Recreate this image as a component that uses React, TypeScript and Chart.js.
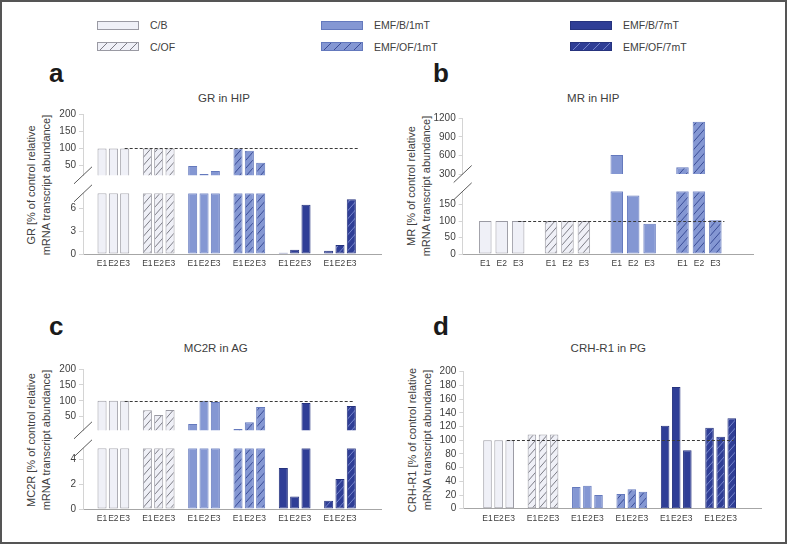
import React, { useEffect, useRef } from 'react';
import { Chart, registerables } from 'chart.js';

Chart.register(...registerables);

const FONT = "'Liberation Sans', Arial, Helvetica, sans-serif";
const TEXT = '#404040';

const REPLICATES = ['E1', 'E2', 'E3'];
const CONDITIONS = ['C/B', 'C/OF', 'EMF/B/1mT', 'EMF/OF/1mT', 'EMF/B/7mT', 'EMF/OF/7mT'];

// a: GR in HIP
const GR_CB = [100, 100, 100];
const GR_COF = [100, 100, 100];
const GR_B1 = [49, 26, 34.5];
const GR_OF1 = [100, 93, 58.5];
const GR_B7 = [0.15, 0.57, 6.5];
const GR_OF7 = [0.43, 1.2, 7.2];
const GR_UPPER_TICKS = [50, 100, 150, 200];
const GR_LOWER_TICKS = [0, 3, 6];

// b: MR in HIP
const MR_CB = [100, 100, 100];
const MR_COF = [100, 100, 100];
const MR_B1 = [607, 177, 92];
const MR_OF1 = [410, 1145, 102];
const MR_UPPER_TICKS = [300, 600, 900, 1200];
const MR_LOWER_TICKS = [0, 50, 100, 150];

// c: MC2R in AG
const MC2R_CB = [100, 100, 100];
const MC2R_COF = [70, 55, 71];
const MC2R_B1 = [27, 100, 96];
const MC2R_OF1 = [11, 32, 80];
const MC2R_B7 = [3.3, 1.0, 93];
const MC2R_OF7 = [0.67, 2.43, 83.5];
const MC2R_UPPER_TICKS = [50, 100, 150, 200];
const MC2R_LOWER_TICKS = [0, 2, 4];

// d: CRH-R1 in PG
const CRH_CB = [100, 100, 100];
const CRH_COF = [108.5, 108.5, 108.5];
const CRH_B1 = [31.7, 33.6, 20];
const CRH_OF1 = [21.5, 28.3, 24.8];
const CRH_B7 = [121, 177.7, 85.2];
const CRH_OF7 = [118.3, 105.1, 132];
const CRH_TICKS = [0, 20, 40, 60, 80, 100, 120, 140, 160, 180, 200];

const CONTROL_LEVEL = 100;

// styles
const FILL = ['#eff0f7', '#eff0f7', '#8497d3', '#8497d3', '#2f3e96', '#2f3e96'];
const EDGE = ['#9a9aa3', '#9a9aa3', '#6479bd', '#6479bd', '#26337e', '#26337e'];
const HATCH: (string | null)[] = [null, '#7c7c85', null, '#3a4c96', null, '#7686cc'];

type Seg = {
  key: string;
  area: [number, number, number, number];
  groups: number[][];
  min: number;
  max: number;
  ticks: number[];
  part: 'upper' | 'lower' | 'full';
  pad: [number, number];
  barPct: number;
  ref?: [number, number];
};

const GR_GROUPS = [GR_CB, GR_COF, GR_B1, GR_OF1, GR_B7, GR_OF7];
const MR_GROUPS = [MR_CB, MR_COF, MR_B1, MR_OF1];
const MC2R_GROUPS = [MC2R_CB, MC2R_COF, MC2R_B1, MC2R_OF1, MC2R_B7, MC2R_OF7];
const CRH_GROUPS = [CRH_CB, CRH_COF, CRH_B1, CRH_OF1, CRH_B7, CRH_OF7];

const SEGMENTS: Seg[] = [
  { key: 'a-up', area: [83, 114, 381.7, 175.3], groups: GR_GROUPS, min: 22, max: 200, ticks: GR_UPPER_TICKS, part: 'upper', pad: [1.68, 2.68], barPct: 0.8, ref: [2, 22.6] },
  { key: 'a-lo', area: [83, 193.3, 381.7, 254], groups: GR_GROUPS, min: 0, max: 8, ticks: GR_LOWER_TICKS, part: 'lower', pad: [1.68, 2.68], barPct: 0.8 },
  { key: 'b-up', area: [462.7, 118.3, 753.3, 174], groups: MR_GROUPS, min: 300, max: 1200, ticks: MR_UPPER_TICKS, part: 'upper', pad: [1.375, 2.31], barPct: 0.76 },
  { key: 'b-lo', area: [462.7, 191.3, 753.3, 254], groups: MR_GROUPS, min: 0, max: 190, ticks: MR_LOWER_TICKS, part: 'lower', pad: [1.375, 2.31], barPct: 0.76, ref: [2, 14.55] },
  { key: 'c-up', area: [83, 369, 381.7, 430.3], groups: MC2R_GROUPS, min: 7, max: 200, ticks: MC2R_UPPER_TICKS, part: 'upper', pad: [1.68, 2.68], barPct: 0.8, ref: [2, 22.25] },
  { key: 'c-lo', area: [83, 448.3, 381.7, 509], groups: MC2R_GROUPS, min: 0, max: 4.9, ticks: MC2R_LOWER_TICKS, part: 'lower', pad: [1.68, 2.68], barPct: 0.8 },
  { key: 'd', area: [463.3, 371.7, 761.7, 508.7], groups: CRH_GROUPS, min: 0, max: 200, ticks: CRH_TICKS, part: 'full', pad: [2.18, 2.7], barPct: 0.77, ref: [1.75, 22.15] },
];

const TITLES = [
  { text: 'GR in HIP', x: 224, y: 98.3 },
  { text: 'MR in HIP', x: 593.3, y: 98.3 },
  { text: 'MC2R in AG', x: 215.8, y: 348.3 },
  { text: 'CRH-R1 in PG', x: 608.3, y: 348.3 },
];

const Y_TITLES = [
  { lines: ['GR [% of control relative', 'mRNA transcript abundance]'], x: 38.5, y: 185 },
  { lines: ['MR [% of control relative', 'mRNA transcript abundance]'], x: 418.5, y: 186 },
  { lines: ['MC2R [% of control relative', 'mRNA transcript abundance]'], x: 39.4, y: 440 },
  { lines: ['CRH-R1 [% of control relative', 'mRNA transcript abundance]'], x: 420, y: 440 },
];

const LETTERS = [
  { text: 'a', x: 49, base: 82 },
  { text: 'b', x: 433, base: 82 },
  { text: 'c', x: 49, base: 335 },
  { text: 'd', x: 433, base: 335 },
];

const LEGEND_COLS = [97, 321, 570];
const LEGEND_ROWS = [25, 46.7];

function geom(seg: Seg) {
  const [l, t, r, b] = seg.area;
  const cx = Math.floor(l - 40);
  const cy = Math.floor(t - 10);
  const xh = seg.part === 'upper' ? 0 : 18;
  const ch = Math.ceil(b - cy + xh + 10);
  const cw = Math.ceil(r - cx + 6);
  return {
    cx, cy, cw, ch, xh,
    yw: l - cx,
    padTop: t - cy,
    padRight: cw - (r - cx),
    padBottom: ch - (b - cy) - xh,
  };
}

function makeHatch(fill: string, line: string): CanvasPattern | string {
  const c = document.createElement('canvas');
  const w = 7, h = 8;
  c.width = w;
  c.height = h;
  const g = c.getContext('2d');
  if (!g) return fill;
  g.fillStyle = fill;
  g.fillRect(0, 0, w, h);
  g.strokeStyle = line;
  g.lineWidth = 1;
  for (const dx of [-w, 0, w]) {
    g.beginPath();
    g.moveTo(dx, h);
    g.lineTo(dx + w, 0);
    g.stroke();
  }
  return g.createPattern(c, 'repeat') || fill;
}

function makeDeco(seg: Seg) {
  return {
    id: 'deco',
    afterDatasetsDraw(chart: any) {
      if (!seg.ref) return;
      const ctx = chart.ctx;
      const xs = chart.scales.x;
      const ys = chart.scales.y;
      const py = Math.round(ys.getPixelForValue(CONTROL_LEVEL)) + 0.5;
      ctx.save();
      ctx.strokeStyle = '#3a3a3a';
      ctx.lineWidth = 1;
      ctx.setLineDash([3, 2]);
      ctx.beginPath();
      ctx.moveTo(xs.getPixelForValue(seg.ref[0]), py);
      ctx.lineTo(xs.getPixelForValue(seg.ref[1]), py);
      ctx.stroke();
      ctx.restore();
    },
    afterDraw(chart: any) {
      if (seg.part === 'full') return;
      const a = chart.chartArea;
      const ctx = chart.ctx;
      const cx = a.left;
      const cy = seg.part === 'upper' ? a.bottom : a.top;
      ctx.save();
      ctx.strokeStyle = '#5a5a5a';
      ctx.lineWidth = 1;
      ctx.beginPath();
      ctx.moveTo(cx - 9, cy + 8.5);
      ctx.lineTo(cx + 9, cy - 8.5);
      ctx.stroke();
      ctx.restore();
    },
  };
}

function createChart(canvas: HTMLCanvasElement, seg: Seg) {
  const g = geom(seg);
  const labels: string[] = [];
  seg.groups.forEach((_, gi) => {
    if (gi > 0) labels.push('');
    REPLICATES.forEach((r) => labels.push(r));
  });
  const n = labels.length;
  const datasets = seg.groups.map((vals, gi) => {
    const data: (number | null)[] = labels.map(() => null);
    vals.forEach((v, k) => {
      let shown: number | null = v;
      if (seg.part === 'lower') shown = Math.min(v, seg.max);
      else if (seg.part === 'upper') shown = v > seg.min ? Math.min(v, seg.max) : null;
      data[gi * 4 + k] = shown;
    });
    const hatch = HATCH[gi];
    return {
      label: CONDITIONS[gi],
      data,
      backgroundColor: hatch ? makeHatch(FILL[gi], hatch) : FILL[gi],
      borderColor: EDGE[gi],
      borderWidth: 1,
      borderSkipped: false,
      inflateAmount: 0,
      grouped: false,
      categoryPercentage: 1,
      barPercentage: seg.barPct,
    };
  });

  return new Chart(canvas, {
    type: 'bar',
    data: { labels, datasets } as any,
    options: {
      animation: false,
      responsive: false,
      devicePixelRatio: 1,
      events: [],
      layout: { padding: { left: 0, top: g.padTop, right: g.padRight, bottom: g.padBottom } },
      plugins: {
        legend: { display: false },
        tooltip: { enabled: false },
        title: { display: false },
      },
      scales: {
        x: {
          type: 'category',
          display: seg.part !== 'upper',
          offset: false,
          grid: { display: false, drawTicks: false },
          border: { display: true, color: '#a6a6a6', width: 1 },
          ticks: {
            autoSkip: false,
            maxRotation: 0,
            minRotation: 0,
            padding: 5,
            color: TEXT,
            font: { size: 8.5, family: FONT },
          },
          afterBuildTicks: (s: any) => {
            s._startValue = -seg.pad[0];
            s._valueRange = n - 1 + seg.pad[0] + seg.pad[1];
          },
          afterFit: (s: any) => {
            s.height = g.xh;
          },
        },
        y: {
          type: 'linear',
          min: seg.min,
          max: seg.max,
          bounds: 'data',
          grid: { display: true, drawOnChartArea: false, drawTicks: true, tickLength: 4, color: '#d4d4d4' },
          border: { display: true, color: '#d4d4d4', width: 1 },
          ticks: {
            autoSkip: false,
            padding: 3,
            color: TEXT,
            font: { size: 10, family: FONT },
            callback: (v: any) => String(v),
          },
          afterBuildTicks: (s: any) => {
            s.ticks = seg.ticks.map((v) => ({ value: v }));
          },
          afterFit: (s: any) => {
            s.width = g.yw;
          },
        },
      },
    } as any,
    plugins: [makeDeco(seg) as any],
  });
}

export default function App() {
  const refs = useRef<(HTMLCanvasElement | null)[]>([]);

  useEffect(() => {
    const charts: Chart[] = [];
    SEGMENTS.forEach((seg, i) => {
      const c = refs.current[i];
      if (c) charts.push(createChart(c, seg));
    });
    return () => charts.forEach((c) => c.destroy());
  }, []);

  return (
    <div
      style={{
        position: 'absolute',
        left: 0,
        top: 0,
        width: 787,
        height: 544,
        background: '#ffffff',
        overflow: 'hidden',
        fontFamily: FONT,
        color: TEXT,
      }}
    >
      {CONDITIONS.map((name, i) => {
        const col = Math.floor(i / 2);
        const row = i % 2;
        const hatch = HATCH[i];
        const bg = hatch
          ? `repeating-linear-gradient(135deg, ${FILL[i]} 0px, ${FILL[i]} 6px, ${hatch} 6px, ${hatch} 7px)`
          : FILL[i];
        return (
          <React.Fragment key={name}>
            <div
              style={{
                position: 'absolute',
                left: LEGEND_COLS[col],
                top: LEGEND_ROWS[row] - 4.5,
                width: 42,
                height: 9,
                boxSizing: 'border-box',
                border: `1px solid ${EDGE[i]}`,
                background: bg,
              }}
            />
            <div
              style={{
                position: 'absolute',
                left: LEGEND_COLS[col] + 53,
                top: LEGEND_ROWS[row] - 6,
                fontSize: 10.5,
                lineHeight: '12px',
                whiteSpace: 'nowrap',
                color: TEXT,
              }}
            >
              {name}
            </div>
          </React.Fragment>
        );
      })}

      {LETTERS.map((l) => (
        <div
          key={l.text}
          style={{
            position: 'absolute',
            left: l.x,
            top: l.base - 22,
            fontSize: 26,
            lineHeight: '26px',
            fontWeight: 'bold',
            color: '#1a1a1a',
          }}
        >
          {l.text}
        </div>
      ))}

      {TITLES.map((t) => (
        <div
          key={t.text}
          style={{
            position: 'absolute',
            left: t.x,
            top: t.y,
            transform: 'translate(-50%, -50%)',
            fontSize: 11.5,
            lineHeight: '13px',
            whiteSpace: 'nowrap',
            color: TEXT,
          }}
        >
          {t.text}
        </div>
      ))}

      {Y_TITLES.map((t) => (
        <div
          key={t.lines[0]}
          style={{
            position: 'absolute',
            left: t.x - 100,
            top: t.y - 15,
            width: 200,
            height: 30,
            transform: 'rotate(-90deg)',
            textAlign: 'center',
            fontSize: 11,
            lineHeight: '15px',
            whiteSpace: 'nowrap',
            color: TEXT,
          }}
        >
          <div>{t.lines[0]}</div>
          <div>{t.lines[1]}</div>
        </div>
      ))}

      {SEGMENTS.map((seg, i) => {
        const g = geom(seg);
        return (
          <canvas
            key={seg.key}
            ref={(el) => {
              refs.current[i] = el;
            }}
            width={g.cw}
            height={g.ch}
            style={{ position: 'absolute', left: g.cx, top: g.cy, width: g.cw, height: g.ch }}
          />
        );
      })}

      <div
        style={{
          position: 'absolute',
          left: 0,
          top: 0,
          width: 787,
          height: 544,
          boxSizing: 'border-box',
          border: '2px solid #555555',
          pointerEvents: 'none',
        }}
      />
    </div>
  );
}
